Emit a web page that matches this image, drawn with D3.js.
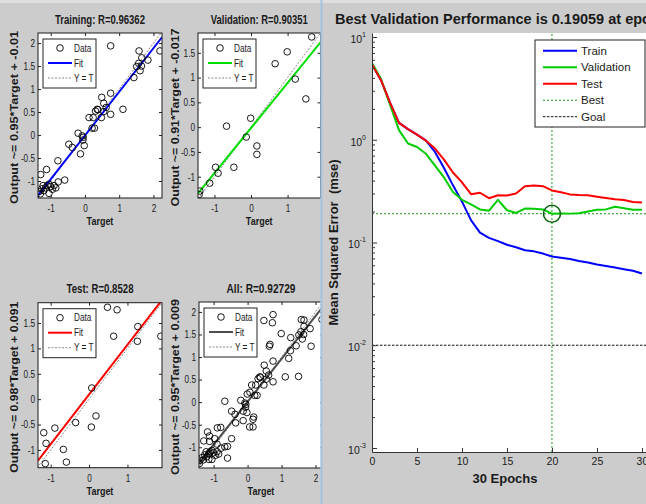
<!DOCTYPE html>
<html>
<head>
<meta charset="utf-8">
<script src="https://cdn.jsdelivr.net/npm/d3@7"></script>
<style>
	body { margin: 0; background: #cccccc; }
	svg { display: block; }
	text { font-family: "Liberation Sans", Arial, sans-serif; fill: #1a1a1a; }
</style>
</head>
<body>
<svg id="chart" width="646" height="504"></svg>
<script>
// regression data: [target, output]
const trainPts = [
	[0.75, 1.94], [2.19, 1.83], [1.58, 1.83], [1.66, 1.68], [1.57, 1.56], [1.51, 1.49], [1.84, 1.63],
	[1.61, 1.40], [1.43, 1.25], [0.75, 0.91], [0.49, 0.82], [0.55, 0.69], [0.36, 0.56], [0.31, 0.52],
	[1.11, 0.56], [0.55, 0.51], [0.12, 0.38], [0.48, 0.38], [0.75, 0.45], [0.24, 0.38], [0.21, 0.15],
	[0.28, 0.15], [-0.20, 0.04], [-0.08, -0.02], [-0.06, -0.11], [-0.02, -0.23], [-0.47, -0.20],
	[-0.37, -0.27], [-0.13, -0.41], [-0.79, -0.56], [-1.12, -0.75], [-1.29, -0.86], [-0.59, -0.98],
	[-0.78, -1.02], [-0.90, -1.10], [-1.05, -1.07], [-1.15, -1.15], [-1.26, -1.17], [-1.34, -1.23],
	[-1.05, -1.27], [-1.20, -1.21], [-0.95, -1.18], [-1.10, -1.10], [-1.00, -1.12], [-1.22, -1.10],
	[-0.85, -1.15], [-1.30, -1.28], [0.38, 0.55], [1.65, 1.50], [0.62, 0.60], [-0.05, -0.05]
];
const valPts = [
	[1.66, 1.82], [0.99, 1.52], [0.66, 1.28], [1.21, 0.97], [1.50, 0.57], [-0.01, 0.18], [-0.67, 0.02],
	[-0.13, -0.20], [0.16, -0.38], [0.16, -0.55], [-0.47, -0.81], [-0.97, -0.81], [-0.90, -0.93],
	[-1.13, -1.13], [-1.40, -1.29], [-1.42, -1.36]
];
const testPts = [
	[0.48, 1.81], [0.73, 1.76], [1.27, 1.43], [1.87, 1.24], [0.64, 1.24], [1.26, 1.14], [0.07, 0.22],
	[0.18, -0.33], [-0.35, -0.46], [0.06, -0.55], [-0.89, -0.57], [-1.18, -0.66], [-1.12, -0.87],
	[-0.67, -0.99], [-0.59, -1.24], [-1.14, -1.27]
];
const allPts = trainPts.concat(valPts, testPts);

// fit: [slope, offset]
const trainFit = [0.95, -0.01];
const valFit = [0.91, -0.017];
const testFit = [0.98, 0.091];
const allFit = [0.95, 0.009];

// performance data
const epochs = [0, 1, 2, 3, 4, 5, 6, 7, 8, 9, 10, 11, 12, 13, 14, 15, 16, 17, 18, 19, 20, 21, 22, 23, 24, 25, 26, 27, 28, 29, 30];
const trainPerf = [5.4, 3.8, 2.3, 1.46, 1.27, 1.12, 0.98, 0.76, 0.53, 0.36, 0.25, 0.165, 0.125, 0.111, 0.103, 0.095,
	0.090, 0.084, 0.082, 0.078, 0.073, 0.071, 0.069, 0.066, 0.064, 0.061, 0.059, 0.057, 0.055, 0.053, 0.050];
const valPerf = [5.6, 3.9, 2.2, 1.24, 0.92, 0.85, 0.73, 0.56, 0.43, 0.31, 0.26, 0.235, 0.21, 0.204, 0.26, 0.206,
	0.194, 0.214, 0.213, 0.21, 0.19059, 0.192, 0.191, 0.193, 0.2, 0.208, 0.21, 0.223, 0.215, 0.208, 0.208];
const testPerf = [5.4, 3.8, 2.3, 1.46, 1.27, 1.12, 0.98, 0.82, 0.64, 0.48, 0.385, 0.295, 0.305, 0.27, 0.288, 0.287,
	0.3, 0.353, 0.358, 0.353, 0.321, 0.309, 0.294, 0.29, 0.288, 0.279, 0.271, 0.263, 0.259, 0.248, 0.245];
const bestEpoch = 20;
const bestPerf = 0.19059;
const goalPerf = 0.01;

const epochTicks = [0, 5, 10, 15, 20, 25, 30];
const decadeTicks = [1e-3, 1e-2, 1e-1, 1e0, 1e1];

const svg = d3.select('#chart');
const defs = svg.append('defs');

// squeeze horizontal texts of the left figure (it was resized narrower)
function squeeze(sel, k) {
	sel.each(function() {
		var w = this.getComputedTextLength();
		d3.select(this).attr('textLength', w * k).attr('lengthAdjust', 'spacingAndGlyphs');
	});
}

svg.append('rect').attr('width', 646).attr('height', 504).attr('fill', '#cccccc');
svg.append('rect').attr('width', 646).attr('height', 3).attr('fill', '#dedede');

// ---- left figure: regression plots ----
defs.append('clipPath').attr('id', 'leftClip')
	.append('rect').attr('x', 0).attr('y', 0).attr('width', 320.5).attr('height', 504);

const leftFig = svg.append('g').attr('clip-path', 'url(#leftClip)');

const panels = [
	{ title: 'Training: R=0.96362', pts: trainPts, fit: trainFit, color: '#0000ff', ylab: 'Output ~= 0.95*Target + -0.01',
	  box: [38, 33, 162, 198], xDom: [-1.37, 2.25], yDom: [-1.37, 2.22],
	  xTicks: [-1, 0, 1, 2], yTicks: [-1, -0.5, 0, 0.5, 1, 1.5, 2], titleW: 90, ylabLen: 173, ylabX: 17.5 },
	{ title: 'Validation: R=0.90351', pts: valPts, fit: valFit, color: '#00dd00', ylab: 'Output ~= 0.91*Target + -0.017',
	  box: [198, 33, 320.5, 198], xDom: [-1.45, 1.9], yDom: [-1.43, 1.9],
	  xTicks: [-1, 0, 1], yTicks: [-1, -0.5, 0, 0.5, 1, 1.5], titleW: 97, ylabLen: 178, ylabX: 179 },
	{ title: 'Test: R=0.8528', pts: testPts, fit: testFit, color: '#ff0000', ylab: 'Output ~= 0.98*Target + 0.091',
	  box: [38, 302.7, 162, 467.7], xDom: [-1.33, 1.9], yDom: [-1.35, 1.9],
	  xTicks: [-1, 0, 1], yTicks: [-1, -0.5, 0, 0.5, 1, 1.5], titleW: 67, ylabLen: 171, ylabX: 17.5 },
	{ title: 'All: R=0.92729', pts: allPts, fit: allFit, color: '#4d4d4d', ylab: 'Output ~= 0.95*Target + 0.009',
	  box: [199, 302, 323, 468], xDom: [-1.43, 2.22], yDom: [-1.46, 2.22],
	  xTicks: [-1, 0, 1, 2], yTicks: [-1, -0.5, 0, 0.5, 1, 1.5, 2], titleW: 69, ylabLen: 176, ylabX: 179 }
];

panels.forEach(function(p, idx) {
	var x0 = p.box[0], y0 = p.box[1], x1 = p.box[2], y1 = p.box[3];
	var x = d3.scaleLinear().domain(p.xDom).range([x0, x1]);
	var y = d3.scaleLinear().domain(p.yDom).range([y1, y0]);
	var g = leftFig.append('g');
	var cx = (x0 + x1) / 2;

	g.append('rect').attr('x', x0).attr('y', y0).attr('width', x1 - x0).attr('height', y1 - y0).attr('fill', '#ffffff');

	var clipId = 'pclip' + idx;
	defs.append('clipPath').attr('id', clipId)
		.append('rect').attr('x', x0).attr('y', y0).attr('width', x1 - x0).attr('height', y1 - y0);
	var plot = g.append('g').attr('clip-path', 'url(#' + clipId + ')');

	var lo = Math.min(p.xDom[0], p.yDom[0]), hi = Math.max(p.xDom[1], p.yDom[1]);
	plot.append('line')
		.attr('x1', x(lo)).attr('y1', y(lo)).attr('x2', x(hi)).attr('y2', y(hi))
		.attr('stroke', '#8a8a8a').attr('stroke-width', 1).attr('stroke-dasharray', '2,1.5');
	plot.append('line')
		.attr('x1', x(p.xDom[0])).attr('y1', y(p.fit[0] * p.xDom[0] + p.fit[1]))
		.attr('x2', x(p.xDom[1])).attr('y2', y(p.fit[0] * p.xDom[1] + p.fit[1]))
		.attr('stroke', p.color).attr('stroke-width', 2);
	plot.selectAll('circle').data(p.pts).enter()
		.append('circle')
		.attr('cx', function(d) { return x(d[0]); })
		.attr('cy', function(d) { return y(d[1]); })
		.attr('r', 3.3)
		.attr('fill', 'none').attr('stroke', '#000').attr('stroke-width', 0.9);

	// axes, ticks inside on all sides
	var fmt = function(d) { return String(d); };
	var gx = g.append('g').attr('transform', 'translate(0,' + y1 + ')')
		.call(d3.axisBottom(x).tickValues(p.xTicks).tickFormat(fmt).tickSizeInner(-3).tickSizeOuter(0).tickPadding(7));
	var gy = g.append('g').attr('transform', 'translate(' + x0 + ',0)')
		.call(d3.axisLeft(y).tickValues(p.yTicks).tickFormat(fmt).tickSizeInner(-3).tickSizeOuter(0).tickPadding(3));
	g.append('g').attr('transform', 'translate(0,' + y0 + ')')
		.call(d3.axisTop(x).tickValues(p.xTicks).tickFormat('').tickSizeInner(-3).tickSizeOuter(0));
	g.append('g').attr('transform', 'translate(' + x1 + ',0)')
		.call(d3.axisRight(y).tickValues(p.yTicks).tickFormat('').tickSizeInner(-3).tickSizeOuter(0));
	g.selectAll('.domain').remove();
	g.selectAll('.tick line').attr('stroke', '#222');
	g.selectAll('.tick text').attr('font-size', '10.5px').attr('fill', '#1a1a1a').attr('font-family', null);
	squeeze(gx.selectAll('.tick text'), 0.78);
	squeeze(gy.selectAll('.tick text'), 0.78);

	g.append('rect').attr('x', x0).attr('y', y0).attr('width', x1 - x0).attr('height', y1 - y0)
		.attr('fill', 'none').attr('stroke', '#1a1a1a').attr('stroke-width', 1);

	// legend
	var lg = g.append('g').attr('transform', 'translate(' + (x0 + 5) + ',' + (y0 + 6) + ')');
	lg.append('rect').attr('width', 53).attr('height', 49).attr('fill', '#fff').attr('stroke', '#222').attr('stroke-width', 1);
	lg.append('circle').attr('cx', 17).attr('cy', 9).attr('r', 3.3).attr('fill', 'none').attr('stroke', '#000').attr('stroke-width', 0.9);
	lg.append('line').attr('x1', 5).attr('x2', 29).attr('y1', 24).attr('y2', 24).attr('stroke', p.color).attr('stroke-width', 2);
	lg.append('line').attr('x1', 5).attr('x2', 29).attr('y1', 39).attr('y2', 39)
		.attr('stroke', '#8a8a8a').attr('stroke-width', 1).attr('stroke-dasharray', '2,1.5');
	var lt = lg.selectAll('text').data(['Data', 'Fit', 'Y = T']).enter()
		.append('text')
		.attr('x', 31).attr('y', function(d, i) { return 9 + i * 15; })
		.attr('dy', '0.35em')
		.attr('font-size', '10.5px')
		.style('white-space', 'pre')
		.text(function(d) { return d; });
	squeeze(lt, 0.78);

	// titles and labels
	g.append('text').attr('x', cx).attr('y', y0 - 9.5).attr('text-anchor', 'middle')
		.attr('font-size', '12.5px').attr('font-weight', 'bold')
		.attr('textLength', p.titleW).attr('lengthAdjust', 'spacingAndGlyphs')
		.text(p.title);
	var xl = g.append('text').attr('x', cx).attr('y', y1 + 27).attr('text-anchor', 'middle')
		.attr('font-size', '11.5px').attr('font-weight', 'bold').text('Target');
	squeeze(xl, 0.78);
	g.append('text')
		.attr('transform', 'translate(' + p.ylabX + ',' + ((y0 + y1) / 2 + 2) + ') rotate(-90)')
		.attr('text-anchor', 'middle').attr('font-size', '11px').attr('font-weight', 'bold')
		.attr('textLength', p.ylabLen).attr('lengthAdjust', 'spacingAndGlyphs')
		.text(p.ylab);
});

// divider between the two figures
svg.append('rect').attr('x', 320.5).attr('y', 0).attr('width', 2).attr('height', 504).attr('fill', '#a3c3e3');

// ---- right figure: performance plot ----
const right = svg.append('g');
const xP = d3.scaleLinear().domain([0, 30.45]).range([372, 646]);
const yP = d3.scaleLog().domain([Math.pow(10, -3.039), Math.pow(10, 1.039)]).range([452, 33]);

right.append('rect').attr('x', 372).attr('y', 33).attr('width', 646 - 372).attr('height', 452 - 33).attr('fill', '#ffffff');

defs.append('clipPath').attr('id', 'perfClip')
	.append('rect').attr('x', 372).attr('y', 33).attr('width', 646 - 372).attr('height', 452 - 33);
const perfPlot = right.append('g').attr('clip-path', 'url(#perfClip)');

// goal & best reference lines
perfPlot.append('line')
	.attr('x1', xP.range()[0]).attr('x2', xP.range()[1]).attr('y1', yP(goalPerf)).attr('y2', yP(goalPerf))
	.attr('stroke', '#111').attr('stroke-width', 1).attr('stroke-dasharray', '2.5,1.5');
perfPlot.append('line')
	.attr('x1', xP.range()[0]).attr('x2', xP.range()[1]).attr('y1', yP(bestPerf)).attr('y2', yP(bestPerf))
	.attr('stroke', '#1a9a1a').attr('stroke-width', 1).attr('stroke-dasharray', '2,2');
perfPlot.append('line')
	.attr('x1', xP(bestEpoch)).attr('x2', xP(bestEpoch)).attr('y1', yP.range()[0]).attr('y2', yP.range()[1])
	.attr('stroke', '#1a9a1a').attr('stroke-width', 1).attr('stroke-dasharray', '2,2');

const perfLine = d3.line()
	.x(function(d, i) { return xP(epochs[i]); })
	.y(function(d) { return yP(d); });

const series = [
	{ name: 'Train', values: trainPerf, color: '#0000ff' },
	{ name: 'Validation', values: valPerf, color: '#00cc00' },
	{ name: 'Test', values: testPerf, color: '#ff0000' }
];
series.forEach(function(s) {
	perfPlot.append('path').datum(s.values)
		.attr('d', perfLine)
		.attr('fill', 'none').attr('stroke', s.color).attr('stroke-width', 2)
		.attr('stroke-linejoin', 'round');
});

perfPlot.append('circle')
	.attr('cx', xP(bestEpoch)).attr('cy', yP(bestPerf)).attr('r', 8.5)
	.attr('fill', 'none').attr('stroke', '#0b640b').attr('stroke-width', 1.6);

// axes
const minorTicks = [];
[-3, -2, -1, 0].forEach(function(k) {
	[2, 3, 4, 5, 6, 7, 8, 9].forEach(function(m) { minorTicks.push(m * Math.pow(10, k)); });
});

const gXP = right.append('g').attr('transform', 'translate(0,452)')
	.call(d3.axisBottom(xP).tickValues(epochTicks).tickFormat(function(d) { return String(d); })
		.tickSizeInner(-4).tickSizeOuter(0).tickPadding(6));
const gYP = right.append('g').attr('transform', 'translate(372,0)')
	.call(d3.axisLeft(yP).tickValues(decadeTicks).tickFormat('').tickSizeInner(-5).tickSizeOuter(0).tickPadding(6));
right.append('g').attr('transform', 'translate(372,0)')
	.call(d3.axisLeft(yP).tickValues(minorTicks).tickFormat('').tickSizeInner(-3).tickSizeOuter(0))
	.select('.domain').remove();

right.selectAll('.domain').attr('stroke', '#333');
right.selectAll('.tick line').attr('stroke', '#333');
gXP.selectAll('.tick text').attr('font-size', '10.5px').attr('fill', '#1a1a1a').attr('font-family', null);
gYP.selectAll('.tick text')
	.attr('font-size', '10.5px').attr('fill', '#1a1a1a').attr('font-family', null).attr('dy', '0.5em')
	.each(function(d) {
		var t = d3.select(this);
		t.append('tspan').text('10');
		t.append('tspan').attr('dy', -6).attr('font-size', '7px').text(String(Math.round(Math.log10(d))));
	});

// legend
const legendItems = [
	{ name: 'Train', color: '#0000ff', dash: null, w: 2 },
	{ name: 'Validation', color: '#00cc00', dash: null, w: 2 },
	{ name: 'Test', color: '#ff0000', dash: null, w: 2 },
	{ name: 'Best', color: '#1a9a1a', dash: '2,2', w: 1 },
	{ name: 'Goal', color: '#111', dash: '2.5,1.5', w: 1 }
];
const pl = right.append('g').attr('transform', 'translate(535,40)');
pl.append('rect').attr('width', 110).attr('height', 87).attr('fill', '#fff').attr('stroke', '#222').attr('stroke-width', 1);
const li = pl.selectAll('g.item').data(legendItems).enter()
	.append('g').attr('class', 'item')
	.attr('transform', function(d, i) { return 'translate(0,' + (10.7 + i * 16.5) + ')'; });
li.append('line').attr('x1', 8).attr('x2', 42)
	.attr('stroke', function(d) { return d.color; })
	.attr('stroke-width', function(d) { return d.w; })
	.attr('stroke-dasharray', function(d) { return d.dash; });
li.append('text').attr('x', 46).attr('dy', '0.36em').attr('font-size', '11.5px')
	.text(function(d) { return d.name; });

// titles
right.append('text').attr('x', 335).attr('y', 23.5)
	.attr('font-size', '14.5px').attr('font-weight', 'bold')
	.text('Best Validation Performance is 0.19059 at epoch 20');
right.append('text').attr('x', 505).attr('y', 483)
	.attr('text-anchor', 'middle').attr('font-size', '13px').attr('font-weight', 'bold')
	.text('30 Epochs');
right.append('text')
	.attr('transform', 'translate(337.5,242.5) rotate(-90)')
	.attr('text-anchor', 'middle').attr('font-size', '13px').attr('font-weight', 'bold')
	.style('white-space', 'pre')
	.text('Mean Squared Error  (mse)');
</script>
</body>
</html>
